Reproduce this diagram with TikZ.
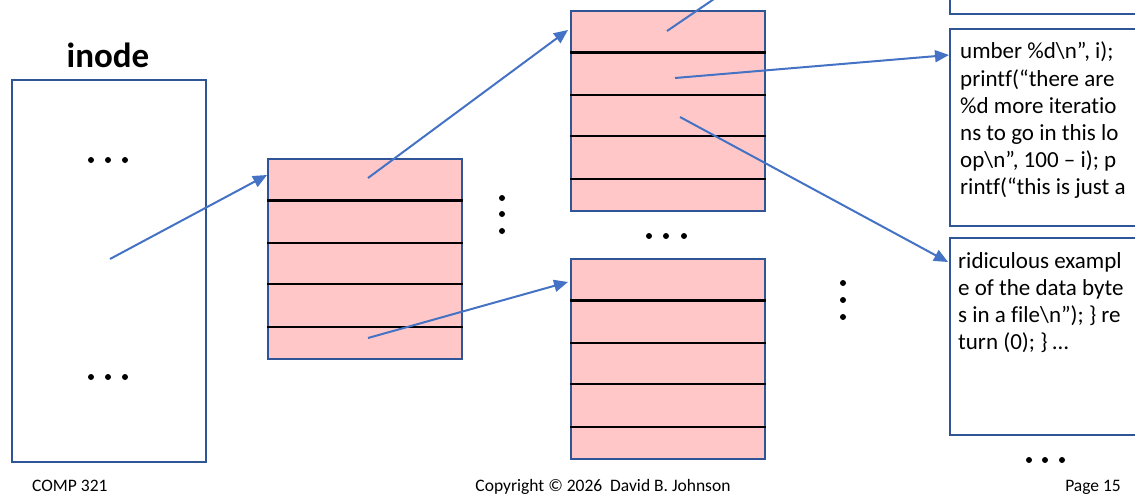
\documentclass[tikz,border=0pt]{standalone}
\usepackage{fontspec}
\setmainfont[Ligatures=NoCommon]{Carlito}
\usetikzlibrary{arrows.meta,calc}
\definecolor{boxblue}{HTML}{2F5597}
\definecolor{arrowblue}{HTML}{4472C4}
\definecolor{cellpink}{HTML}{FFC7C7}
\tikzset{
  frame/.style={draw=boxblue,line width=2pt,inner sep=0pt,anchor=north west},
  blockbox/.style={frame,fill=cellpink,minimum width=194pt,minimum height=200pt},
  rowline/.style={draw=black,line width=2.2pt},
  ptr/.style={draw=arrowblue,line width=2pt,-{Triangle[length=14pt,width=12pt]}},
  ptrfree/.style={draw=arrowblue,line width=2pt},
  dot/.style={circle,fill=black,inner sep=0pt,minimum size=6pt},
  datatext/.style={anchor=base west,inner sep=0pt,font=\fontsize{23}{27}\selectfont},
  foot/.style={anchor=base,inner sep=0pt,font=\fontsize{17.5}{20}\selectfont}
}
\newcommand{\rowlines}[1]{%
  \foreach \f in {0.21,0.42,0.625,0.835}{%
    \draw[rowline] ($(#1.north west)!\f!(#1.south west)$) -- ($(#1.north east)!\f!(#1.south east)$);}}
\begin{document}
\begin{tikzpicture}[x=1pt,y=-1pt]
\useasboundingbox (0,0) rectangle (1135,495);
\clip (0,0) rectangle (1135,495);
% inode
\node[frame,minimum width=194pt,minimum height=382pt] (inode) at (11,79) {};
\node[anchor=base,inner sep=0pt,font=\fontsize{35}{40}\selectfont\bfseries] (inodelbl) at (108,67) {inode};
\foreach \y/\n in {160/a,377/b}{
  \foreach \x/\m in {91/1,108/2,125/3}{\node[dot] (id\n\m) at (\x,\y) {};}}
% blocks
\node[blockbox] (b1) at (267,158) {};
\rowlines{b1}
\node[blockbox] (b2) at (570,10) {};
\rowlines{b2}
\node[blockbox] (b3) at (570,258) {};
\rowlines{b3}
% dots between blocks
\foreach \y/\m in {198/1,214/2,231/3}{\node[dot] (vd\m) at (502,\y) {};}
\foreach \x/\m in {649/1,666/2,684/3}{\node[dot] (hd\m) at (\x,236) {};}
\foreach \y/\m in {283/1,300/2,317/3}{\node[dot] (vr\m) at (843,\y) {};}
\foreach \x/\m in {1029/1,1045/2,1062/3}{\node[dot] (hr\m) at (\x,460) {};}
% data boxes
\node[frame,minimum width=220pt,minimum height=40pt] (d0) at (949,-27) {};
\node[frame,minimum width=220pt,minimum height=197pt] (d1) at (949,28) {};
\node[frame,minimum width=220pt,minimum height=197pt] (d2) at (949,237) {};
\foreach \t [count=\i from 0] in {{umber \%d\textbackslash n”, i);},{printf(“there are},{\%d more iteratio},{ns to go in this lo},{op\textbackslash n”, 100 – i); p},{rintf(“this is just a}}{
  \node[datatext] (t1l\i) at (960,59+27*\i) {\t};}
\foreach \t [count=\i from 0] in {{ridiculous exampl},{e of the data byte},{s in a file\textbackslash n”); \} re},{turn (0); \} …}}{
  \node[datatext] (t2l\i) at (958,268+27*\i) {\t};}
% pointer start / end coordinates
\coordinate (p1s) at (110,259);
\coordinate (p1e) at ($(b1.north west)+(0,17)$);
\coordinate (p2s) at (368,178);
\coordinate (p2e) at ($(b2.north west)+(-2,20)$);
\coordinate (p3s) at (368,338);
\coordinate (p3e) at ($(b3.north west)+(-2,24)$);
\coordinate (p4s) at (667,31);
\coordinate (p4e) at (714,-1);
\coordinate (p5s) at (675,78);
\coordinate (p5e) at ($(d1.north west)+(0,27)$);
\coordinate (p6s) at (680,117);
\coordinate (p6e) at ($(d2.north west)+(-1,25)$);
\draw[ptr] (p1s) -- (p1e);
\draw[ptr] (p2s) -- (p2e);
\draw[ptr] (p3s) -- (p3e);
\draw[ptrfree] (p4s) -- (p4e);
\draw[ptr] (p5s) -- (p5e);
\draw[ptr] (p6s) -- (p6e);
% footer
\node[foot,anchor=base west] (f1) at (32,491) {COMP 321};
\node[foot] (f2) at (603,491) {Copyright © 2026\ \ David B. Johnson};
\node[foot,anchor=base east] (f3) at (1121,491) {Page 15};
\end{tikzpicture}
\end{document}
